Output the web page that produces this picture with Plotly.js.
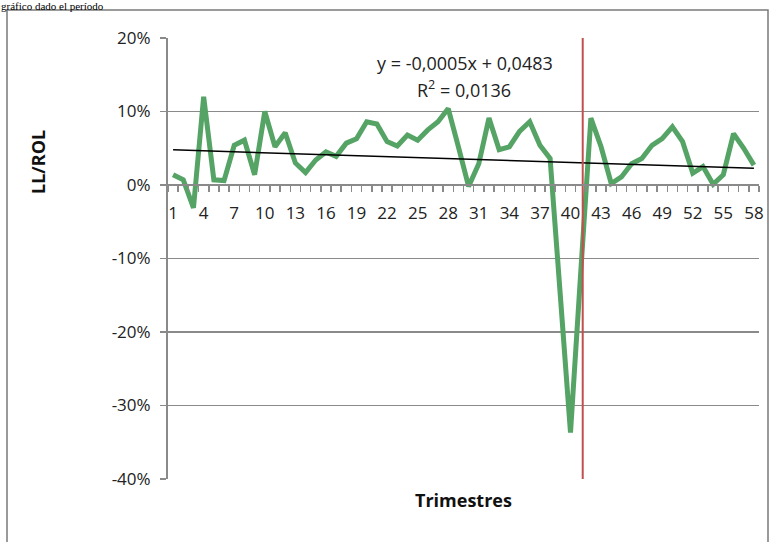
<!DOCTYPE html>
<html>
<head>
<meta charset="utf-8">
<script src="https://cdn.plot.ly/plotly-3.0.1.min.js"></script>
<style>html,body{margin:0;padding:0;background:#fff;}#chart{width:773px;height:542px;}</style>
</head>
<body>
<div id="chart"></div>
<script>
// Quarter index (Trimestres)
var quarters = [];
for (var i = 1; i <= 58; i++) quarters.push(i);

// LL/ROL values
var llRol = [
  0.014, 0.007, -0.031, 0.120, 0.007, 0.006, 0.054, 0.061, 0.014, 0.100,
  0.052, 0.071, 0.030, 0.017, 0.034, 0.045, 0.039, 0.057, 0.063, 0.086,
  0.083, 0.059, 0.053, 0.068, 0.061, 0.075, 0.086, 0.104, 0.052, -0.002,
  0.029, 0.091, 0.048, 0.052, 0.073, 0.086, 0.054, 0.036, -0.150, -0.337,
  -0.120, 0.091, 0.052, 0.002, 0.011, 0.029, 0.036, 0.054, 0.063, 0.079,
  0.059, 0.016, 0.025, 0.001, 0.014, 0.070, 0.050, 0.027
];

// Linear trend line (y = -0,0005x + 0,0483), endpoints as drawn
var trendX = [1, 58];
var trendY = [0.0478, 0.0228];

// Red vertical marker line
var markerX = [41.2, 41.2];
var markerY = [0.2, -0.4];

// Axis ticks
var xTickVals = [1, 4, 7, 10, 13, 16, 19, 22, 25, 28, 31, 34, 37, 40, 43, 46, 49, 52, 55, 58];
var xTickText = xTickVals.map(String);
var yTickVals = [-0.4, -0.3, -0.2, -0.1, 0, 0.1, 0.2];
var yTickText = ['-40%', '-30%', '-20%', '-10%', '0%', '10%', '20%'];

var font = 'Open Sans, Lato, sans-serif';
var grey = '#8a8a8a';

var traces = [
  {x: quarters, y: llRol, type: 'scatter', mode: 'lines',
   line: {color: '#55A365', width: 5}, hoverinfo: 'skip'},
  {x: trendX, y: trendY, type: 'scatter', mode: 'lines',
   line: {color: '#000000', width: 1.5}, hoverinfo: 'skip'},
  {x: markerX, y: markerY, type: 'scatter', mode: 'lines',
   line: {color: '#C0504D', width: 2}, hoverinfo: 'skip'}
];

// paper coordinates helpers (plot area: x 168..759 px, y 38..479 px)
function px(p) { return (p - 168) / 591; }
function py(p) { return (479 - p) / 441; }

var layout = {
  width: 773, height: 542,
  margin: {l: 168, r: 14, t: 38, b: 63},
  paper_bgcolor: '#ffffff', plot_bgcolor: '#ffffff',
  showlegend: false,
  xaxis: {
    range: [0.5, 58.5], anchor: 'free', position: 0.4 / 0.6,
    tickmode: 'array', tickvals: xTickVals, ticktext: xTickText,
    ticks: 'outside', ticklen: 6, tickcolor: 'rgba(0,0,0,0)',
    minor: {ticks: 'outside', ticklen: 6, tickwidth: 1.5, tickcolor: grey,
            tickmode: 'linear', tick0: 0.5, dtick: 1, showgrid: false},
    ticklabelstandoff: 7,
    showline: true, linecolor: grey, linewidth: 2,
    showgrid: false, zeroline: false,
    tickfont: {family: font, size: 17, color: '#222'}
  },
  yaxis: {
    range: [-0.4, 0.2],
    tickmode: 'array', tickvals: yTickVals, ticktext: yTickText,
    ticks: 'outside', ticklen: 6, tickwidth: 1.5, tickcolor: grey,
    ticklabelstandoff: 6,
    showline: true, linecolor: grey, linewidth: 2,
    showgrid: true, gridcolor: grey, gridwidth: 1.5,
    zeroline: false,
    tickfont: {family: font, size: 17, color: '#222'}
  },
  shapes: [
    {type: 'rect', xref: 'paper', yref: 'paper',
     x0: px(7), x1: px(768), y0: py(600), y1: py(10),
     line: {color: '#7a7a7a', width: 1.5}, layer: 'below'}
  ],
  annotations: [
    {xref: 'paper', yref: 'paper', x: px(465), y: py(63), text: 'y = -0,0005x + 0,0483',
     showarrow: false, font: {family: font, size: 18, color: '#222'}, xanchor: 'center', yanchor: 'middle'},
    {xref: 'paper', yref: 'paper', x: px(464), y: py(89), text: 'R<sup>2</sup> = 0,0136',
     showarrow: false, font: {family: font, size: 18, color: '#222'}, xanchor: 'center', yanchor: 'middle'},
    {xref: 'paper', yref: 'paper', x: px(38), y: py(162), text: '<b>LL/ROL</b>', textangle: -90,
     showarrow: false, font: {family: font, size: 18, color: '#111'}, xanchor: 'center', yanchor: 'middle'},
    {xref: 'paper', yref: 'paper', x: px(463), y: py(500), text: '<b>Trimestres</b>',
     showarrow: false, font: {family: font, size: 18, color: '#111'}, xanchor: 'center', yanchor: 'middle'},
    {xref: 'paper', yref: 'paper', x: px(0), y: py(-1), text: 'gráfico dado el período',
     showarrow: false, font: {family: 'Liberation Serif, serif', size: 11, color: '#000'},
     xanchor: 'left', yanchor: 'top', borderpad: 0}
  ]
};

Plotly.newPlot('chart', traces, layout, {displayModeBar: false, staticPlot: true});
</script>
</body>
</html>
